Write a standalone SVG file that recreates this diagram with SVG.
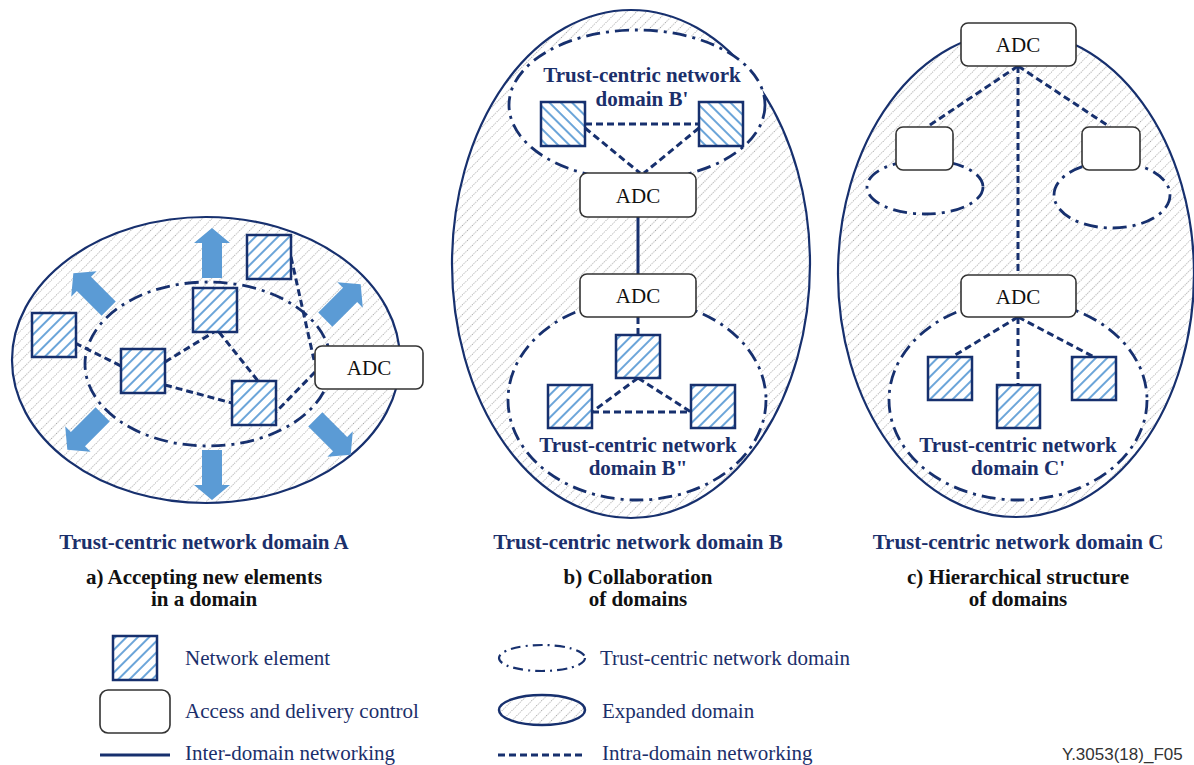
<svg xmlns="http://www.w3.org/2000/svg" width="1194" height="765" viewBox="0 0 1194 765">
<defs>
<pattern id="gray" patternUnits="userSpaceOnUse" width="7" height="7" patternTransform="rotate(45)">
<rect width="7" height="7" fill="#fff"/>
<line x1="3.5" y1="0" x2="3.5" y2="7" stroke="#8c8c8c" stroke-width="0.8" stroke-dasharray="1 1.33"/>
</pattern>
<pattern id="ne" patternUnits="userSpaceOnUse" width="8" height="8" patternTransform="rotate(45)">
<rect width="8" height="8" fill="#fff"/>
<line x1="4" y1="0" x2="4" y2="8" stroke="#5b9bd5" stroke-width="1.8"/>
</pattern>
<pattern id="ne2" patternUnits="userSpaceOnUse" width="8" height="8" patternTransform="rotate(-45)">
<rect width="8" height="8" fill="#fff"/>
<line x1="4" y1="0" x2="4" y2="8" stroke="#5b9bd5" stroke-width="1.8"/>
</pattern>
<polygon id="arr" points="-10,25 10,25 10,-10 18,-10 0,-25 -18,-10 -10,-10" fill="#5b9bd5"/>
</defs>
<style>
.outer{fill:url(#gray);stroke:#17306e;stroke-width:2.2}
.tc{fill:#fff;stroke:#17306e;stroke-width:2.8;stroke-dasharray:14 6 3 6}
.tcn{fill:none;stroke:#17306e;stroke-width:2.8;stroke-dasharray:14 6 3 6}
.ne{fill:url(#ne);stroke:#17306e;stroke-width:2.5}
.ne2{fill:url(#ne2);stroke:#17306e;stroke-width:2.5}
.adc{fill:#fff;stroke:#333;stroke-width:1.6}
.dash{stroke:#17306e;stroke-width:3;stroke-dasharray:7 4;fill:none}
.solid{stroke:#17306e;stroke-width:3;fill:none}
.at{font-family:'Liberation Serif',serif;font-size:21px;fill:#111;text-anchor:middle}
.lbl{font-family:'Liberation Serif',serif;font-size:21px;font-weight:bold;fill:#1b2f6b;text-anchor:middle}
.cap{font-family:'Liberation Serif',serif;font-size:21px;font-weight:bold;fill:#111;text-anchor:middle}
.leg{font-family:'Liberation Serif',serif;font-size:21px;fill:#1b2f6b}
</style>

<!-- Panel A -->
<g id="domainA">
<ellipse class="outer" cx="206" cy="360" rx="194" ry="143"/>
<ellipse class="tcn" cx="208" cy="364" rx="123" ry="82"/>
</g>
<g id="arrowsA">
<use href="#arr" transform="translate(212,253)"/>
<use href="#arr" transform="translate(212,475) rotate(180)"/>
<use href="#arr" transform="translate(91,291) rotate(-45)"/>
<use href="#arr" transform="translate(343,302) rotate(45)"/>
<use href="#arr" transform="translate(85,432) rotate(-135)"/>
<use href="#arr" transform="translate(333,437) rotate(135)"/>
</g>
<g id="connectorsA">
<line class="dash" x1="75" y1="343" x2="121" y2="366"/>
<line class="dash" x1="165" y1="362" x2="214" y2="332"/>
<line class="dash" x1="219" y1="332" x2="258" y2="381"/>
<line class="dash" x1="165" y1="385" x2="232" y2="403"/>
<line class="dash" x1="291" y1="257" x2="314" y2="360"/>
<line class="dash" x1="315" y1="372" x2="276" y2="412"/>
</g>
<g id="neA1"><rect class="ne" x="247" y="235" width="44" height="44"/></g>
<g id="neA2"><rect class="ne" x="193" y="288" width="44" height="44"/></g>
<g id="neA3"><rect class="ne" x="32" y="313" width="44" height="44"/></g>
<g id="neA4"><rect class="ne" x="121" y="349" width="44" height="44"/></g>
<g id="neA5"><rect class="ne" x="232" y="381" width="44" height="44"/></g>
<g id="adcA"><rect class="adc" x="315" y="346" width="108" height="43" rx="7"/><text class="at" x="369" y="375">ADC</text></g>

<!-- Panel B -->
<g id="domainB">
<ellipse class="outer" cx="631" cy="264" rx="179" ry="254"/>
</g>
<g id="domainB1">
<ellipse class="tc" cx="637" cy="105" rx="128" ry="75"/>
<text class="lbl" x="642" y="82">Trust-centric network</text>
<text class="lbl" x="642" y="106">domain B'</text>
</g>
<g id="domainB2">
<ellipse class="tc" cx="637" cy="400" rx="129" ry="100"/>
<text class="lbl" x="638" y="452">Trust-centric network</text>
<text class="lbl" x="638" y="475">domain B"</text>
</g>
<g id="connectorsB">
<line class="dash" x1="585" y1="124" x2="699" y2="124"/>
<line class="dash" x1="585" y1="128" x2="640" y2="173"/>
<line class="dash" x1="699" y1="128" x2="644" y2="173"/>
<line class="solid" x1="638" y1="217" x2="638" y2="274"/>
<line class="dash" x1="638" y1="317" x2="638" y2="335"/>
<line class="dash" x1="638" y1="378" x2="592" y2="412"/>
<line class="dash" x1="638" y1="378" x2="691" y2="412"/>
<line class="dash" x1="592" y1="412" x2="691" y2="412"/>
</g>
<g id="neB1"><rect class="ne2" x="541" y="102" width="44" height="44"/></g>
<g id="neB2"><rect class="ne2" x="699" y="102" width="44" height="44"/></g>
<g id="adcB1"><rect class="adc" x="580" y="173" width="116" height="44" rx="7"/><text class="at" x="638" y="203">ADC</text></g>
<g id="adcB2"><rect class="adc" x="580" y="274" width="116" height="43" rx="7"/><text class="at" x="638" y="303">ADC</text></g>
<g id="neB3"><rect class="ne" x="616" y="335" width="44" height="43"/></g>
<g id="neB4"><rect class="ne" x="548" y="385" width="44" height="43"/></g>
<g id="neB5"><rect class="ne" x="691" y="385" width="44" height="43"/></g>

<!-- Panel C -->
<g id="domainC">
<ellipse class="outer" cx="1016" cy="274" rx="178" ry="243"/>
</g>
<g id="domainC1"><ellipse class="tc" cx="925" cy="187" rx="58" ry="27"/></g>
<g id="domainC2"><ellipse class="tc" cx="1112" cy="195" rx="58" ry="33"/></g>
<g id="domainC3">
<ellipse class="tc" cx="1018" cy="400" rx="129" ry="100"/>
<text class="lbl" x="1018" y="452">Trust-centric network</text>
<text class="lbl" x="1018" y="475">domain C'</text>
</g>
<g id="connectorsC">
<line class="dash" x1="1018" y1="66" x2="927" y2="127"/>
<line class="dash" x1="1018" y1="66" x2="1110" y2="127"/>
<line class="dash" x1="1018" y1="66" x2="1018" y2="275"/>
<line class="dash" x1="1018" y1="317" x2="952" y2="357"/>
<line class="dash" x1="1018" y1="317" x2="1018" y2="385"/>
<line class="dash" x1="1018" y1="317" x2="1094" y2="357"/>
</g>
<g id="adcC1"><rect class="adc" x="961" y="23" width="115" height="43" rx="7"/><text class="at" x="1018" y="52">ADC</text></g>
<g id="adcC2"><rect class="adc" x="896" y="127" width="57" height="43" rx="7"/></g>
<g id="adcC3"><rect class="adc" x="1082" y="127" width="58" height="43" rx="7"/></g>
<g id="adcC4"><rect class="adc" x="961" y="275" width="115" height="42" rx="7"/><text class="at" x="1018" y="304">ADC</text></g>
<g id="neC1"><rect class="ne" x="928" y="357" width="44" height="43"/></g>
<g id="neC2"><rect class="ne" x="997" y="385" width="43" height="43"/></g>
<g id="neC3"><rect class="ne" x="1072" y="357" width="44" height="43"/></g>

<!-- Captions -->
<g id="captions">
<text class="lbl" x="204" y="549">Trust-centric network domain A</text>
<text class="cap" x="204" y="584">a) Accepting new elements</text>
<text class="cap" x="204" y="606">in a domain</text>
<text class="lbl" x="638" y="549">Trust-centric network domain B</text>
<text class="cap" x="638" y="584">b) Collaboration</text>
<text class="cap" x="638" y="606">of domains</text>
<text class="lbl" x="1018" y="549">Trust-centric network domain C</text>
<text class="cap" x="1018" y="584">c) Hierarchical structure</text>
<text class="cap" x="1018" y="606">of domains</text>
</g>

<!-- Legend -->
<g id="legend">
<rect class="ne" x="113" y="636" width="44" height="44"/>
<text class="leg" x="185" y="665">Network element</text>
<rect class="adc" x="100" y="690" width="70" height="43" rx="8"/>
<text class="leg" x="185" y="718">Access and delivery control</text>
<line class="solid" x1="100" y1="755" x2="170" y2="755"/>
<text class="leg" x="185" y="760">Inter-domain networking</text>
<ellipse class="tcn" cx="542" cy="658" rx="43" ry="13" style="stroke-width:2.2;stroke-dasharray:10 5 2 5"/>
<text class="leg" x="600" y="665">Trust-centric network domain</text>
<ellipse class="outer" cx="542" cy="710" rx="43" ry="15" style="stroke-width:2.5"/>
<text class="leg" x="602" y="718">Expanded domain</text>
<line class="dash" x1="498" y1="755" x2="586" y2="755"/>
<text class="leg" x="602" y="760">Intra-domain networking</text>
<text x="1062" y="760" style="font-family:'Liberation Sans',sans-serif;font-size:17px;fill:#333">Y.3053(18)_F05</text>
</g>
</svg>
